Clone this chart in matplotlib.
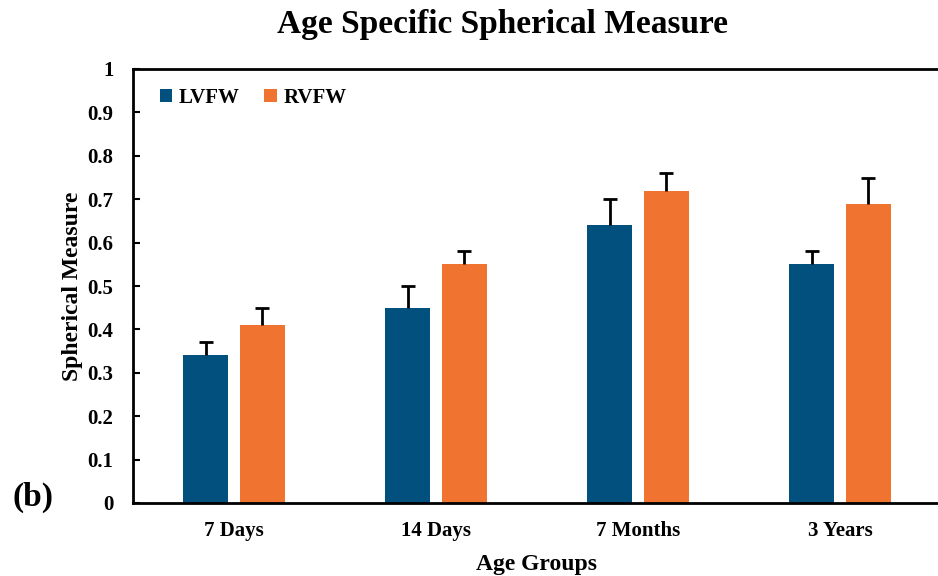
import matplotlib
matplotlib.use("Agg")
import matplotlib.pyplot as plt
import numpy as np

categories = ["7 Days", "14 Days", "7 Months", "3 Years"]
lvfw = [0.34, 0.45, 0.64, 0.55]
lvfw_err = [0.03, 0.05, 0.06, 0.03]
rvfw = [0.41, 0.55, 0.72, 0.69]
rvfw_err = [0.04, 0.03, 0.04, 0.06]
series_names = ["LVFW", "RVFW"]
colors = ["#02507E", "#F07430"]

plt.rcParams['font.family'] = ['Liberation Serif', 'DejaVu Serif']
plt.rcParams['font.weight'] = 'bold'

fig = plt.figure(figsize=(9.38, 5.76), dpi=100)
ax = fig.add_axes([133/938, 1 - 503/576, 808/938, (503 - 69)/576])

x = np.arange(len(categories))
w = 0.223
off = 0.141
ekw = dict(elinewidth=2, capthick=2, capsize=5, ecolor='black')
b1 = ax.bar(x - off, lvfw, w, color=colors[0], label=series_names[0],
            yerr=[np.zeros(4), lvfw_err], error_kw=ekw, zorder=2)
b2 = ax.bar(x + off, rvfw, w, color=colors[1], label=series_names[1],
            yerr=[np.zeros(4), rvfw_err], error_kw=ekw, zorder=2)
for b in (b1, b2):
    caps = b.errorbar.lines[1]
    if len(caps) > 0:
        caps[0].set_visible(False)

ax.set_xlim(-0.5, 3.5)
ax.set_ylim(0, 1)
ax.set_yticks(np.arange(0, 1.01, 0.1))
ax.set_yticklabels(["0"] + [f"{v:.1f}" for v in np.arange(0.1, 0.95, 0.1)] + ["1"])
ax.set_xticks(x)
ax.set_xticklabels(categories)
ax.tick_params(axis='y', direction='in', length=5, width=1.5, pad=14, labelsize=15)
ax.tick_params(axis='x', length=0, pad=13, labelsize=15)
for s in ['left', 'bottom', 'top']:
    ax.spines[s].set_linewidth(2)
ax.spines['right'].set_visible(False)

ax.set_xlabel("Age Groups", fontsize=17, fontweight='bold', labelpad=9)
ax.set_ylabel("Spherical Measure", fontsize=17, fontweight='bold', labelpad=3)
fig.text(502/938, 1 - 24/576, "Age Specific Spherical Measure", ha='center', va='center',
         fontsize=24, fontweight='bold')
fig.text(12/938, 1 - 497/576, "(b)", ha='left', va='center', fontsize=24, fontweight='bold')

ax.legend(loc='upper left', bbox_to_anchor=(0.010, 0.999), ncol=2, frameon=False,
          handlelength=0.6, handleheight=0.6, handletextpad=0.3, columnspacing=1.2,
          prop={'size': 15, 'weight': 'bold'})

fig.savefig("out.png", dpi=100)
